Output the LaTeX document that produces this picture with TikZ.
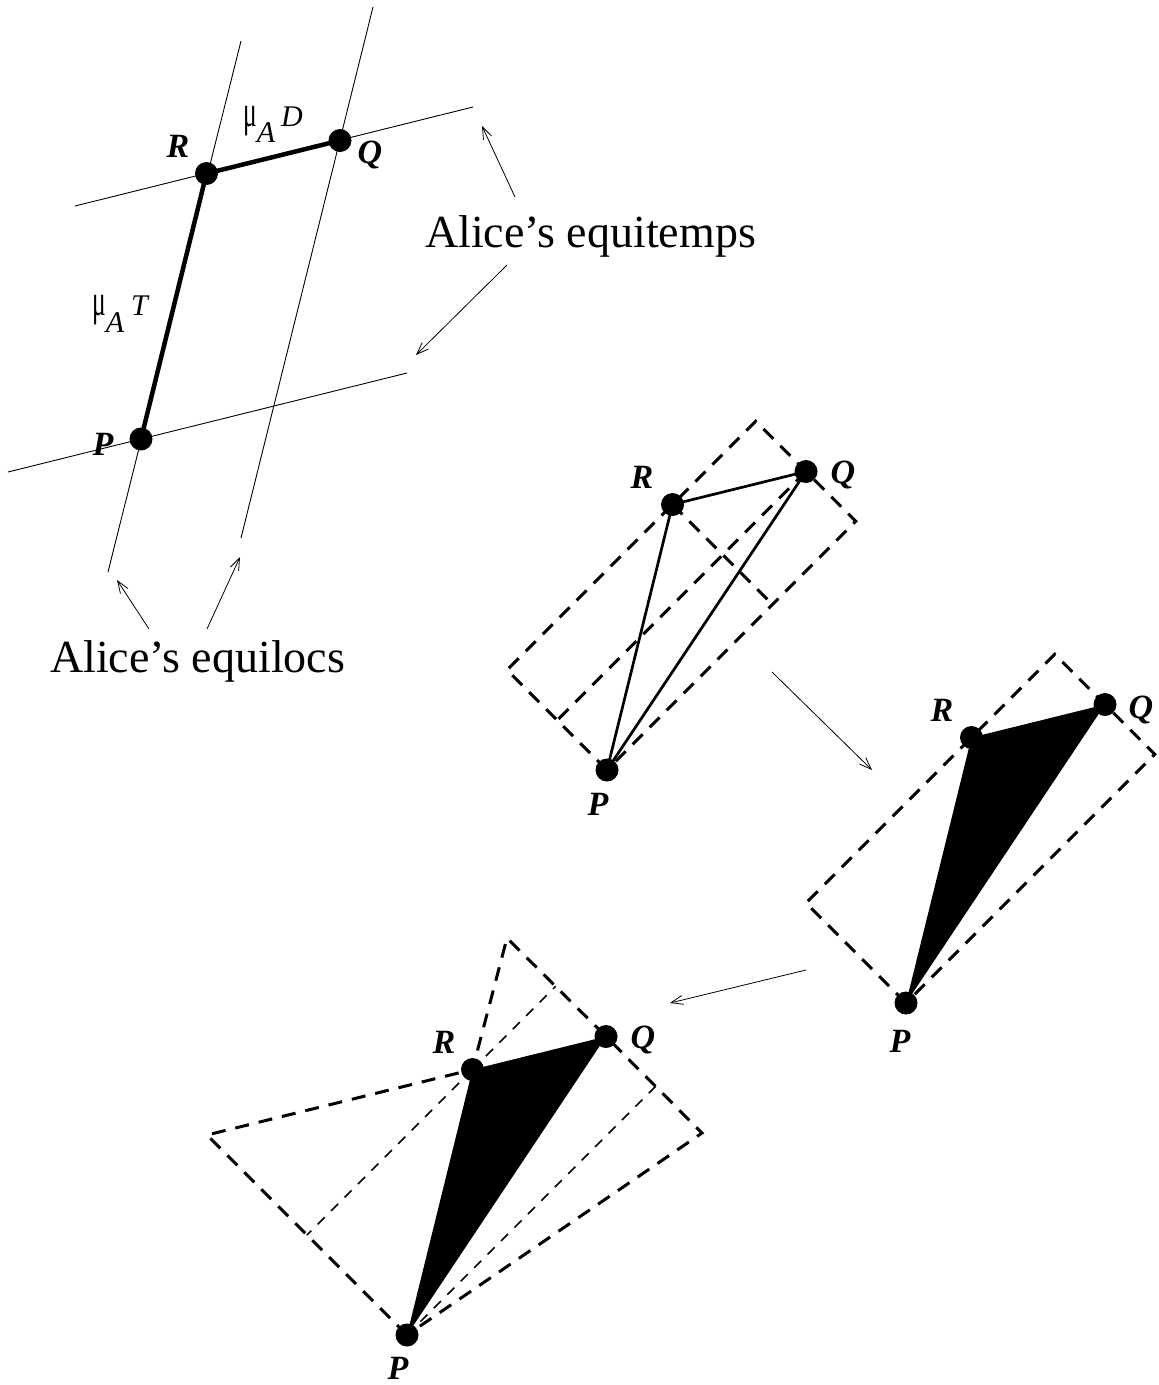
\documentclass[tikz,border=0pt]{standalone}
\usepackage{fontspec}
\setmainfont{Liberation Serif}
\usepackage{graphicx}
\usetikzlibrary{arrows.meta,calc}
\newcommand{\bigmu}{{\fontsize{44}{44}\selectfont\scalebox{0.58}[1]{μ}}}
\begin{document}
\begin{tikzpicture}[x=1pt,y=-1pt,
  thinline/.style={line width=0.9pt},
  pdot/.style={circle,fill=black,draw=none,inner sep=0pt,minimum size=23pt},
  lbl/.style={font=\fontsize{34}{34}\selectfont\bfseries\itshape,inner sep=0pt,anchor=base},
  bigtext/.style={font=\fontsize{46}{46}\selectfont,inner sep=0pt,anchor=base west},
  mulabel/.style={font=\fontsize{30}{30}\selectfont,inner sep=0pt,anchor=base west},
  arr/.style={line width=0.8pt,-{Straight Barb[length=12pt,width=9pt,line width=0.8pt]}},
  dsh/.style={line width=3pt,dash pattern=on 14pt off 10pt,line join=miter},
  thindsh/.style={line width=1.5pt,dash pattern=on 10pt off 9pt},
  triline/.style={line width=2.7pt,line join=round},
  heavy/.style={line width=4.5pt,line join=round}]
\useasboundingbox (0,0) rectangle (1159,1385);

% ---------------- top-left: Alice's frame ----------------
\coordinate (el1a) at (241,41);  \coordinate (el1b) at (108,572);
\coordinate (el2a) at (373,7);   \coordinate (el2b) at (241,538);
\coordinate (et1a) at (75,206);  \coordinate (et1b) at (473,107);
\coordinate (et2a) at (8,472);   \coordinate (et2b) at (407,373);
\draw[thinline] (el1a) -- (el1b);
\draw[thinline] (el2a) -- (el2b);
\draw[thinline] (et1a) -- (et1b);
\draw[thinline] (et2a) -- (et2b);

\node[pdot] (tlP) at (141,439) {};
\node[pdot] (tlR) at (206.5,173.5) {};
\node[pdot] (tlQ) at (340,140.5) {};
\draw[heavy] (tlP.center) -- (tlR.center) -- (tlQ.center);

\node[lbl] (tlRl) at (178,157) {R};
\node[lbl] (tlQl) at (370,163) {Q};
\node[lbl] (tlPl) at (103,455) {P};
\node[mulabel] (muD) at (243,126) {\bigmu\raisebox{-16pt}{\itshape A}\hspace{6pt}\textit{D}};
\node[mulabel] (muT) at (92,315) {\bigmu\raisebox{-17pt}{\itshape A}\hspace{7pt}\textit{T}};

\node[bigtext] (eqt) at (425,247) {Alice’s equitemps};
\coordinate (a1s) at (515,197); \coordinate (a1e) at (482,126);
\coordinate (a2s) at (507,265); \coordinate (a2e) at (416,355);
\draw[arr] (a1s) -- (a1e);
\draw[arr] (a2s) -- (a2e);

\node[bigtext] (eql) at (50,672) {Alice’s equilocs};
\coordinate (b1s) at (149,629); \coordinate (b1e) at (117,580);
\coordinate (b2s) at (207,629); \coordinate (b2e) at (240,557);
\draw[arr] (b1s) -- (b1e);
\draw[arr] (b2s) -- (b2e);

% ---------------- middle figure ----------------
\coordinate (mP0) at (607,770);
\coordinate (mL) at (507,670);
\coordinate (mT) at (755.75,421.25);
\coordinate (mRt) at (855.75,521.25);
\coordinate (mRc) at (772.5,604.5);
\coordinate (mQc) at (557.25,720.25);
\draw[dsh] (mP0) -- (mL) -- (mT) -- (mRt) -- cycle;
\node[pdot] (mP) at (607,770) {};
\node[pdot] (mR) at (672.5,504.5) {};
\node[pdot] (mQ) at (806,471.5) {};
\draw[dsh] (mR.center) -- (mRc);
\draw[dsh] (mQ.center) -- (mQc);
\draw[triline] (mP.center) -- (mR.center) -- (mQ.center) -- cycle;
\node[lbl] (mRl) at (642,488) {R};
\node[lbl] (mQl) at (843,483) {Q};
\node[lbl] (mPl) at (598,815) {P};

\coordinate (c1s) at (772,672); \coordinate (c1e) at (872,770);
\draw[arr] (c1s) -- (c1e);

% ---------------- right figure ----------------
\coordinate (rP0) at (906,1003);
\coordinate (rL) at (806,903);
\coordinate (rT) at (1054.75,654.25);
\coordinate (rRt) at (1154.75,754.25);
\draw[dsh] (rP0) -- (rL) -- (rT) -- (rRt) -- cycle;
\node[pdot] (rP) at (906,1003) {};
\node[pdot] (rR) at (971.5,737.5) {};
\node[pdot] (rQ) at (1105,704.5) {};
\fill[line join=round] (rP.center) -- (rR.center) -- (rQ.center) -- cycle;
\node[lbl] (rRl) at (942,721) {R};
\node[lbl] (rQl) at (1141,718) {Q};
\node[lbl] (rPl) at (900,1052) {P};

\coordinate (c2s) at (806,970); \coordinate (c2e) at (670,1003);
\draw[arr] (c2s) -- (c2e);

% ---------------- bottom figure ----------------
\node[pdot] (bP) at (407,1335) {};
\node[pdot] (bR) at (472.5,1069.5) {};
\node[pdot] (bQ) at (606,1036.5) {};
\coordinate (bL) at (207,1135);
\coordinate (bT) at (507,938);
\coordinate (bRt) at (702,1133);
\coordinate (bRc) at (307,1235);
\coordinate (bTc) at (555.75,986.25);
\coordinate (bQc) at (655.75,1086.25);
\draw[dsh] (bP.center) -- (bL) -- (bR.center) -- (bT) -- (bQ.center) -- (bRt) -- (bP.center);
\draw[thindsh] (bR.center) -- (bRc);
\draw[thindsh] (bR.center) -- (bTc);
\draw[thindsh] (bP.center) -- (bQc);
\fill[line join=round] (bP.center) -- (bR.center) -- (bQ.center) -- cycle;
\node[lbl] (bRl) at (444,1053) {R};
\node[lbl] (bQl) at (643,1048) {Q};
\node[lbl] (bPl) at (398,1379) {P};
\end{tikzpicture}
\end{document}
